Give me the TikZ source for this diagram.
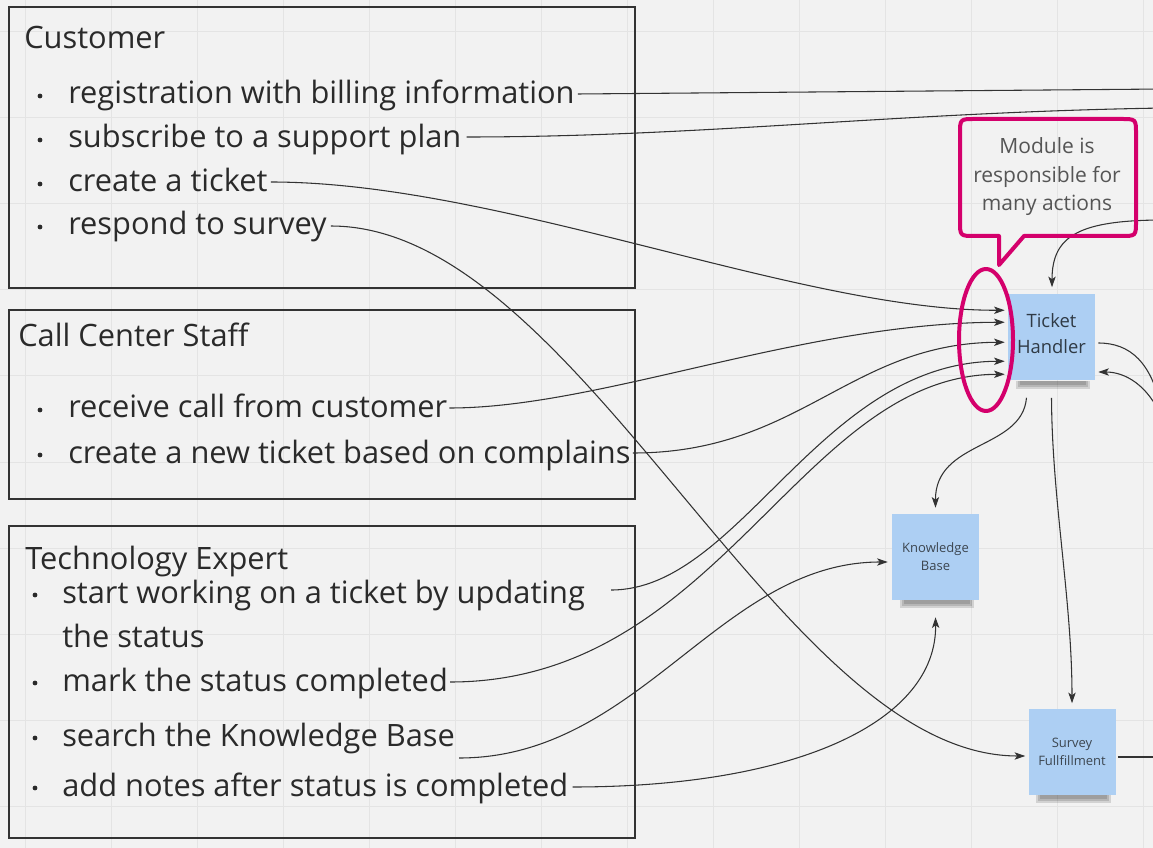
\documentclass[tikz,border=0pt]{standalone}
\usepackage{fontspec}
\setmainfont{Open Sans}
\usetikzlibrary{arrows.meta,calc}
\definecolor{bgcol}{HTML}{F2F2F2}
\definecolor{gridcol}{HTML}{E4E4E4}
\definecolor{boxcol}{HTML}{333333}
\definecolor{txtcol}{HTML}{2A2A2A}
\definecolor{linecol}{HTML}{333333}
\definecolor{notecol}{HTML}{ADCFF3}
\definecolor{notetxt}{HTML}{3C4650}
\definecolor{thtxt}{HTML}{2F3A45}
\definecolor{magcol}{HTML}{D4006C}
\definecolor{calltxt}{HTML}{555555}
\begin{document}
\begin{tikzpicture}[x=0.75pt,y=-0.75pt,
  frame/.style={draw=boxcol,line width=1.5pt},
  bigtxt/.style={inner sep=0pt,anchor=base west,text=txtcol,font=\fontsize{23.1}{27}\selectfont},
  conn/.style={draw=linecol,line width=0.8pt},
  arr/.style={conn,-{Stealth[length=8pt,width=5.5pt,inset=2pt]}},
  note/.style={fill=notecol,minimum width=65.25pt,minimum height=64.5pt,inner sep=0pt,align=center,text=notetxt},
  bul/.style={fill=txtcol},
  shad/.style={fill=black,opacity=0.13,draw=none},
  mag/.style={draw=magcol,line width=3pt,line join=round}]
\useasboundingbox (0,0) rectangle (1153,848);
\clip (0,0) rectangle (1153,848);
\fill[bgcol] (0,0) rectangle (1153,848);
\foreach \gx in {25,111,...,1143} \draw[gridcol,line width=0.75pt] (\gx,0) -- (\gx,848);
\foreach \gy in {32,118,...,806} \draw[gridcol,line width=0.75pt] (0,\gy) -- (1153,\gy);

% boxes
\draw[frame] (9,7) rectangle (635,288);
\draw[frame] (9,310) rectangle (635,499);
\draw[frame] (9,526) rectangle (635,838);

% Customer
\node[bigtxt] (cust) at (24,49) {Customer};
\node[bigtxt] (c1) at (68,104) {registration with billing information};
\node[bigtxt] (c2) at (68,148) {subscribe to a support plan};
\node[bigtxt] (c3) at (68,192) {create a ticket};
\node[bigtxt] (c4) at (68,235) {respond to survey};
\foreach \by in {96,140,184,227} \fill[bul] (40,\by) circle (1.8pt);

% Call center
\node[bigtxt] (ccs) at (18,347) {Call Center Staff};
\node[bigtxt] (k1) at (68,418) {receive call from customer};
\node[bigtxt] (k2) at (68,463) {create a new ticket based on complains};
\foreach \by in {410,455} \fill[bul] (40,\by) circle (1.8pt);

% Technology expert
\node[bigtxt] (tex) at (25,569) {Technology Expert};
\node[bigtxt] (e1) at (62,603) {start working on a ticket by updating};
\node[bigtxt] (e1b) at (62,647) {the status};
\node[bigtxt] (e2) at (62,691) {mark the status completed};
\node[bigtxt] (e3) at (62,746) {search the Knowledge Base};
\node[bigtxt] (e4) at (62,796) {add notes after status is completed};
\foreach \by in {595,683,738,788} \fill[bul] (35,\by) circle (1.8pt);

% sticky notes
\node[note,text=thtxt,font=\fontsize{13.8}{19.5}\selectfont] (th) at (1051.5,337.5) {};
\node[text=thtxt,align=center,inner sep=0pt,font=\fontsize{13.8}{19.5}\selectfont] (thl) at (1051.5,334) {Ticket\\Handler};
\node[note,font=\fontsize{9.75}{13.5}\selectfont] (kb) at (935.5,557) {Knowledge\\Base};
\node[note,font=\fontsize{9.75}{13.5}\selectfont] (sf) at (1072,751.5) {Survey\\Fullfillment};
\foreach \nn in {th,kb,sf}{
  \foreach \i in {0,2,4}{
    \fill[shad] ($(\nn.south west)+(8+\i,0)$) rectangle ($(\nn.south east)+(-5-\i,8-\i)$);
  }
}

% free ends at the right edge
\coordinate (r1) at (1165,89);
\coordinate (r2) at (1165,108);
\coordinate (r3) at (1165,220);
\coordinate (r4) at (1162,412);
\coordinate (r5) at (1162,418);
\coordinate (r6) at (1165,757);

% connectors
\draw[conn] ($(c1.base east)+(3,-10)$) -- (r1);
\draw[conn] ($(c2.base east)+(5,-11)$) .. controls (700,137) and (900,112) .. (r2);
\draw[arr] ($(c3.base east)+(3,-10)$) .. controls (500,182) and (800,311) .. ($(th.north west)+(-3,16)$);
\draw[arr] ($(c4.base east)+(4,-9)$) .. controls (580,226) and (780,756) .. ($(sf.west)+(-3,4.5)$);
\draw[arr] ($(k1.base east)+(2,-10)$) .. controls (600,408) and (800,323) .. ($(th.north west)+(-3,28)$);
\draw[arr] ($(k2.base east)+(2,-10)$) .. controls (800,453) and (850,343) .. ($(th.north west)+(-3,48)$);
\draw[arr] ($(e1.base east)+(26,-13)$) .. controls (740,590) and (820,362) .. ($(th.north west)+(-3,67)$);
\draw[arr] ($(e2.base east)+(2,-9)$) .. controls (720,682) and (800,375) .. ($(th.north west)+(-3,80)$);
\draw[arr] ($(e3.base east)+(4,12)$) .. controls (640,758) and (720,562) .. ($(kb.west)+(-4,5)$);
\draw[arr] ($(e4.base east)+(4,-9)$) .. controls (800,787) and (937,720) .. ($(kb.south)+(0,17)$);

\draw[arr] (r3) .. controls (1080,220) and (1052,235) .. ($(th.north)+(0.5,-7)$);
\draw[conn] ($(th.east)+(3,5.5)$) .. controls (1130,343) and (1152,362) .. (r4);
\draw[arr] (r5) .. controls (1148,385) and (1125,372) .. ($(th.east)+(3,34.5)$);
\draw[arr] ($(th.south)+(-25,17)$) .. controls (1022,450) and (935,440) .. ($(kb.north)+(0,-6)$);
\draw[arr] ($(th.south)+(0,17)$) .. controls (1052,500) and (1072,600) .. ($(sf.north)+(0,-5)$);
\draw[conn] ($(sf.east)+(2,5.5)$) -- (r6);

% highlight ellipse and callout
\draw[mag] (986,340) ellipse [x radius=27, y radius=71];
\draw[mag] (999,236) -- (975,236) .. controls (960,236) .. (960,221) -- (960,134)
  .. controls (960,119) .. (975,119) -- (1121,119) .. controls (1136,119) .. (1136,134)
  -- (1136,221) .. controls (1136,236) .. (1121,236) -- (1024,236) -- (999,265) -- cycle;
\node[text=calltxt,align=center,inner sep=0pt,font=\fontsize{15.75}{21.4}\selectfont] (ctxt) at (1047,177) {Module is\\responsible for\\many actions};
\end{tikzpicture}
\end{document}
